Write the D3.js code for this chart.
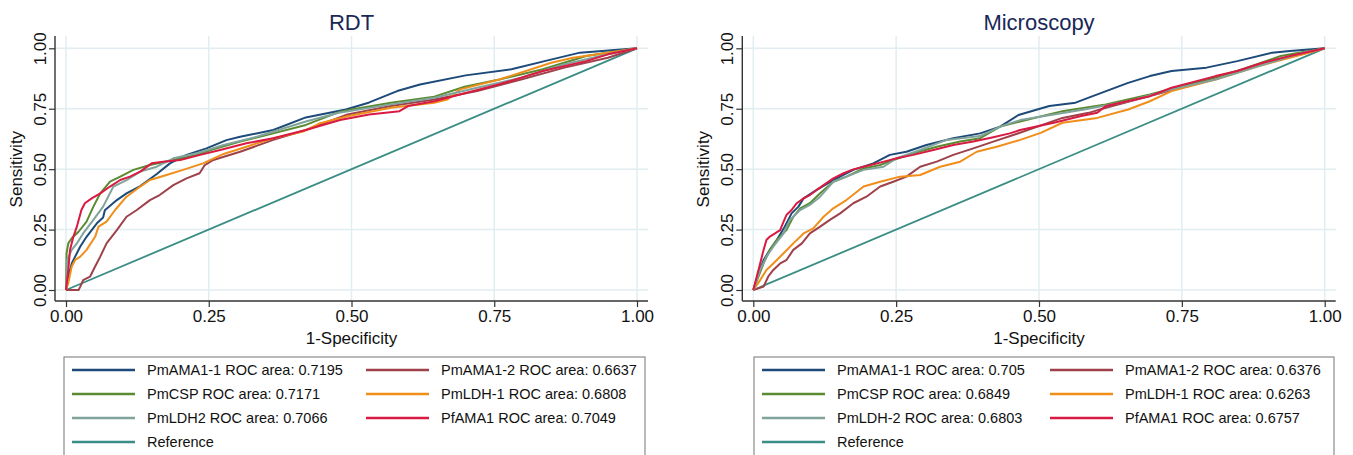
<!DOCTYPE html>
<html>
<head>
<meta charset="UTF-8">
<title>ROC curves</title>
<script src="https://d3js.org/d3.v7.min.js"></script>
<style>
  body { margin: 0; background: #fff; }
  svg { display: block; font-family: "Liberation Sans", Arial, sans-serif; }
</style>
</head>
<body>
<div id="chart"></div>
<script>
// series names, in Stata plot / legend order
var seriesNames = ["PmAMA1-1", "PmAMA1-2", "PmCSP", "PmLDH-1", "PmLDH2", "PfAMA1"];
var micNames    = ["PmAMA1-1", "PmAMA1-2", "PmCSP", "PmLDH-1", "PmLDH-2", "PfAMA1"];
var rdtAreas = ["0.7195", "0.6637", "0.7171", "0.6808", "0.7066", "0.7049"];
var micAreas = ["0.705", "0.6376", "0.6849", "0.6263", "0.6803", "0.6757"];
var tickVals = [0, 0.25, 0.5, 0.75, 1];

// RDT panel, [1-specificity, sensitivity]
var rdtAMA1_1 = [[0,0],[0.004,0.055],[0.01,0.11],[0.016,0.138],[0.025,0.18],[0.036,0.22],[0.054,0.276],[0.065,0.30],[0.068,0.33],[0.089,0.372],[0.106,0.40],[0.13,0.43],[0.159,0.48],[0.182,0.524],[0.211,0.559],[0.246,0.586],[0.281,0.62],[0.305,0.634],[0.363,0.662],[0.42,0.714],[0.49,0.747],[0.53,0.775],[0.58,0.823],[0.62,0.85],[0.70,0.888],[0.78,0.913],[0.84,0.948],[0.90,0.982],[1,1]];
var rdtAMA1_2 = [[0,0],[0.022,0],[0.025,0.014],[0.03,0.041],[0.042,0.055],[0.051,0.097],[0.06,0.138],[0.071,0.193],[0.089,0.248],[0.106,0.303],[0.124,0.331],[0.147,0.372],[0.164,0.393],[0.188,0.434],[0.211,0.462],[0.234,0.483],[0.243,0.517],[0.258,0.538],[0.305,0.572],[0.363,0.621],[0.42,0.662],[0.493,0.726],[0.569,0.761],[0.645,0.788],[0.72,0.823],[0.797,0.871],[0.873,0.92],[0.949,0.961],[1,1]];
var rdtCSP = [[0,0],[0.001,0.152],[0.004,0.193],[0.01,0.214],[0.022,0.241],[0.036,0.283],[0.048,0.345],[0.06,0.40],[0.077,0.448],[0.095,0.469],[0.118,0.497],[0.147,0.517],[0.188,0.538],[0.229,0.559],[0.258,0.582],[0.305,0.614],[0.363,0.648],[0.42,0.683],[0.48,0.738],[0.50,0.747],[0.569,0.775],[0.645,0.80],[0.698,0.841],[0.759,0.871],[0.835,0.913],[0.911,0.968],[1,1]];
var rdtLDH1 = [[0,0],[0.004,0.028],[0.01,0.097],[0.016,0.124],[0.025,0.138],[0.036,0.166],[0.051,0.22],[0.057,0.262],[0.071,0.283],[0.086,0.331],[0.106,0.386],[0.13,0.428],[0.147,0.455],[0.176,0.476],[0.205,0.497],[0.24,0.524],[0.276,0.563],[0.316,0.593],[0.363,0.628],[0.417,0.657],[0.445,0.69],[0.493,0.719],[0.569,0.754],[0.645,0.775],[0.668,0.788],[0.69,0.83],[0.759,0.871],[0.85,0.94],[0.888,0.961],[0.949,0.982],[1,1]];
var rdtLDH2 = [[0,0],[0.002,0.124],[0.01,0.166],[0.019,0.193],[0.03,0.234],[0.048,0.29],[0.065,0.345],[0.083,0.428],[0.106,0.455],[0.13,0.49],[0.159,0.51],[0.188,0.545],[0.229,0.566],[0.276,0.60],[0.334,0.634],[0.42,0.697],[0.478,0.733],[0.569,0.768],[0.645,0.795],[0.72,0.837],[0.797,0.878],[0.873,0.934],[0.949,0.975],[1,1]];
var rdtPfAMA1 = [[0,0],[0.004,0.083],[0.007,0.166],[0.013,0.221],[0.019,0.262],[0.027,0.331],[0.033,0.359],[0.045,0.379],[0.06,0.40],[0.077,0.428],[0.095,0.455],[0.112,0.469],[0.13,0.49],[0.15,0.524],[0.17,0.531],[0.2,0.538],[0.235,0.559],[0.27,0.579],[0.316,0.607],[0.363,0.628],[0.42,0.662],[0.48,0.703],[0.531,0.726],[0.584,0.74],[0.599,0.761],[0.645,0.781],[0.69,0.809],[0.759,0.851],[0.835,0.906],[0.911,0.947],[0.949,0.975],[1,1]];

// Microscopy panel
var micAMA1_1 = [[0,0],[0.009,0.069],[0.018,0.124],[0.029,0.166],[0.041,0.207],[0.055,0.262],[0.067,0.317],[0.079,0.345],[0.088,0.379],[0.111,0.414],[0.14,0.455],[0.175,0.497],[0.21,0.524],[0.239,0.559],[0.268,0.572],[0.303,0.60],[0.35,0.628],[0.397,0.648],[0.432,0.676],[0.464,0.724],[0.518,0.761],[0.564,0.775],[0.594,0.802],[0.656,0.857],[0.694,0.885],[0.732,0.906],[0.793,0.92],[0.847,0.947],[0.908,0.982],[0.939,0.989],[1,1]];
var micAMA1_2 = [[0,0],[0.018,0.014],[0.026,0.055],[0.035,0.083],[0.047,0.11],[0.058,0.124],[0.07,0.166],[0.085,0.193],[0.099,0.234],[0.117,0.262],[0.134,0.29],[0.152,0.317],[0.175,0.359],[0.198,0.386],[0.222,0.428],[0.245,0.448],[0.268,0.469],[0.292,0.51],[0.321,0.531],[0.35,0.559],[0.385,0.586],[0.42,0.614],[0.455,0.641],[0.541,0.712],[0.587,0.733],[0.617,0.754],[0.694,0.802],[0.77,0.851],[0.847,0.906],[0.923,0.954],[1,1]];
var micCSP = [[0,0],[0.009,0.055],[0.018,0.11],[0.029,0.166],[0.041,0.207],[0.058,0.248],[0.07,0.303],[0.082,0.338],[0.099,0.359],[0.117,0.40],[0.14,0.448],[0.163,0.469],[0.193,0.503],[0.222,0.517],[0.245,0.538],[0.28,0.566],[0.321,0.593],[0.362,0.614],[0.397,0.628],[0.432,0.676],[0.467,0.697],[0.541,0.74],[0.617,0.768],[0.694,0.809],[0.77,0.857],[0.847,0.906],[0.923,0.968],[1,1]];
var micLDH1 = [[0,0],[0.012,0.041],[0.023,0.083],[0.035,0.11],[0.053,0.152],[0.07,0.193],[0.088,0.234],[0.105,0.255],[0.123,0.303],[0.14,0.338],[0.163,0.372],[0.193,0.428],[0.222,0.448],[0.257,0.469],[0.292,0.476],[0.327,0.51],[0.362,0.531],[0.391,0.572],[0.426,0.593],[0.467,0.621],[0.503,0.65],[0.541,0.692],[0.602,0.712],[0.656,0.747],[0.694,0.781],[0.732,0.823],[0.809,0.871],[0.885,0.927],[0.962,0.975],[1,1]];
var micLDH2 = [[0,0],[0.012,0.083],[0.023,0.138],[0.035,0.179],[0.053,0.234],[0.064,0.29],[0.082,0.331],[0.099,0.352],[0.117,0.386],[0.14,0.448],[0.163,0.469],[0.193,0.497],[0.228,0.51],[0.251,0.545],[0.292,0.579],[0.338,0.621],[0.397,0.637],[0.432,0.676],[0.467,0.703],[0.579,0.747],[0.656,0.781],[0.732,0.83],[0.809,0.871],[0.885,0.927],[0.962,0.982],[1,1]];
var micPfAMA1 = [[0,0],[0.006,0.055],[0.012,0.11],[0.018,0.166],[0.023,0.207],[0.029,0.221],[0.038,0.234],[0.047,0.248],[0.053,0.283],[0.058,0.31],[0.067,0.331],[0.076,0.359],[0.088,0.379],[0.099,0.393],[0.111,0.414],[0.123,0.434],[0.14,0.462],[0.158,0.483],[0.175,0.499],[0.198,0.513],[0.222,0.527],[0.251,0.545],[0.28,0.559],[0.315,0.579],[0.35,0.60],[0.385,0.614],[0.42,0.632],[0.449,0.648],[0.467,0.662],[0.526,0.692],[0.572,0.719],[0.602,0.733],[0.617,0.761],[0.694,0.802],[0.732,0.837],[0.809,0.885],[0.847,0.906],[0.893,0.941],[0.939,0.968],[1,1]];

var refLine = [[0,0],[1,1]];

var colors = ["#1d4a78", "#9e414a", "#5a8a32", "#f08e1a", "#80a49b", "#d91a42"];
var refColor = "#3a8d84";

var svg = d3.select("#chart").append("svg")
    .attr("width", 1353)
    .attr("height", 455);

// draws one panel: title, grid, axes, curves, legend
function drawPanel(opt) {
    var x = d3.scaleLinear().domain([0, 1]).range([opt.x0, opt.x1]);
    var y = d3.scaleLinear().domain([0, 1]).range([290, 48.3]);
    var g = svg.append("g");
    var left = opt.axisX, right = opt.x1 + 11, top = 36, bottom = 301;

    // grid
    g.selectAll(".hg").data(tickVals).enter().append("line")
        .attr("x1", left).attr("x2", right)
        .attr("y1", function(d){ return y(d); }).attr("y2", function(d){ return y(d); })
        .attr("stroke", "#e2edf1").attr("stroke-width", 1.5);
    g.selectAll(".vg").data(tickVals).enter().append("line")
        .attr("x1", function(d){ return x(d); }).attr("x2", function(d){ return x(d); })
        .attr("y1", top).attr("y2", bottom)
        .attr("stroke", "#e2edf1").attr("stroke-width", 1.5);

    // axes
    var yAxis = d3.axisLeft(y).tickValues(tickVals).tickFormat(d3.format(".2f")).tickSize(6).tickSizeOuter(0);
    var xAxis = d3.axisBottom(x).tickValues(tickVals).tickFormat(d3.format(".2f")).tickSize(6).tickSizeOuter(0);
    var ya = g.append("g").attr("transform", "translate(" + left + ",0)").call(yAxis);
    var xa = g.append("g").attr("transform", "translate(0," + bottom + ")").call(xAxis);
    [ya, xa].forEach(function(a){
        a.select(".domain").remove();
        a.selectAll(".tick line").attr("stroke", "#333").attr("stroke-width", 1.2);
        a.selectAll("text").attr("font-size", "17px").attr("fill", "#111")
            .attr("font-family", "Liberation Sans, Arial, sans-serif");
    });
    ya.selectAll("text")
        .attr("transform", "rotate(-90)")
        .attr("x", 0).attr("y", -9).attr("dy", 0)
        .attr("text-anchor", "middle");
    xa.selectAll("text").attr("y", 9).attr("dy", "0.71em");
    g.append("line").attr("x1", left).attr("x2", left).attr("y1", top).attr("y2", bottom)
        .attr("stroke", "#333").attr("stroke-width", 1.4);
    g.append("line").attr("x1", left).attr("x2", right).attr("y1", bottom).attr("y2", bottom)
        .attr("stroke", "#333").attr("stroke-width", 1.4);

    // titles
    g.append("text").attr("x", (opt.x0 + opt.x1) / 2).attr("y", 30)
        .attr("text-anchor", "middle").attr("font-size", "22px").attr("fill", "#1a2858")
        .text(opt.title);
    g.append("text").attr("x", (opt.x0 + opt.x1) / 2).attr("y", 344)
        .attr("text-anchor", "middle").attr("font-size", "17px").attr("fill", "#111")
        .text("1-Specificity");
    g.append("text").attr("transform", "translate(" + (opt.axisX - 33) + "," + y(0.5) + ") rotate(-90)")
        .attr("text-anchor", "middle").attr("font-size", "17px").attr("fill", "#111")
        .text("Sensitivity");

    // curves
    var line = d3.line().x(function(d){ return x(d[0]); }).y(function(d){ return y(d[1]); });
    g.append("path").datum(refLine).attr("d", line)
        .attr("fill", "none").attr("stroke", refColor).attr("stroke-width", 1.8);
    opt.series.forEach(function(s, i){
        g.append("path").datum(s).attr("d", line)
            .attr("fill", "none").attr("stroke", colors[i]).attr("stroke-width", 2)
            .attr("stroke-linejoin", "round");
    });

    // legend
    var lg = g.append("g");
    lg.append("rect").attr("x", opt.legX).attr("y", 357)
        .attr("width", opt.legW).attr("height", 110)
        .attr("fill", "none").attr("stroke", "#8a8a8a").attr("stroke-width", 1.2);
    var rows = [370, 394, 418, 442];
    var items = opt.names.map(function(n, i){
        return { label: n + " ROC area: " + opt.areas[i], color: colors[i], col: i % 2, row: Math.floor(i / 2) };
    });
    items.push({ label: "Reference", color: refColor, col: 0, row: 3 });
    items.forEach(function(it){
        var lx = opt.legX + (it.col === 0 ? 8 : opt.col2);
        lg.append("line").attr("x1", lx).attr("x2", lx + 63)
            .attr("y1", rows[it.row]).attr("y2", rows[it.row])
            .attr("stroke", it.color).attr("stroke-width", 2.5);
        lg.append("text").attr("x", lx + 75).attr("y", rows[it.row]).attr("dy", "0.35em")
            .attr("font-size", "14.5px").attr("fill", "#111").text(it.label);
    });
}

drawPanel({
    title: "RDT", x0: 66, x1: 637, axisX: 55,
    series: [rdtAMA1_1, rdtAMA1_2, rdtCSP, rdtLDH1, rdtLDH2, rdtPfAMA1],
    names: seriesNames, areas: rdtAreas,
    legX: 64, legW: 581, col2: 302
});
drawPanel({
    title: "Microscopy", x0: 753.3, x1: 1324.7, axisX: 742.3,
    series: [micAMA1_1, micAMA1_2, micCSP, micLDH1, micLDH2, micPfAMA1],
    names: micNames, areas: micAreas,
    legX: 754, legW: 580, col2: 296
});
</script>
</body>
</html>
